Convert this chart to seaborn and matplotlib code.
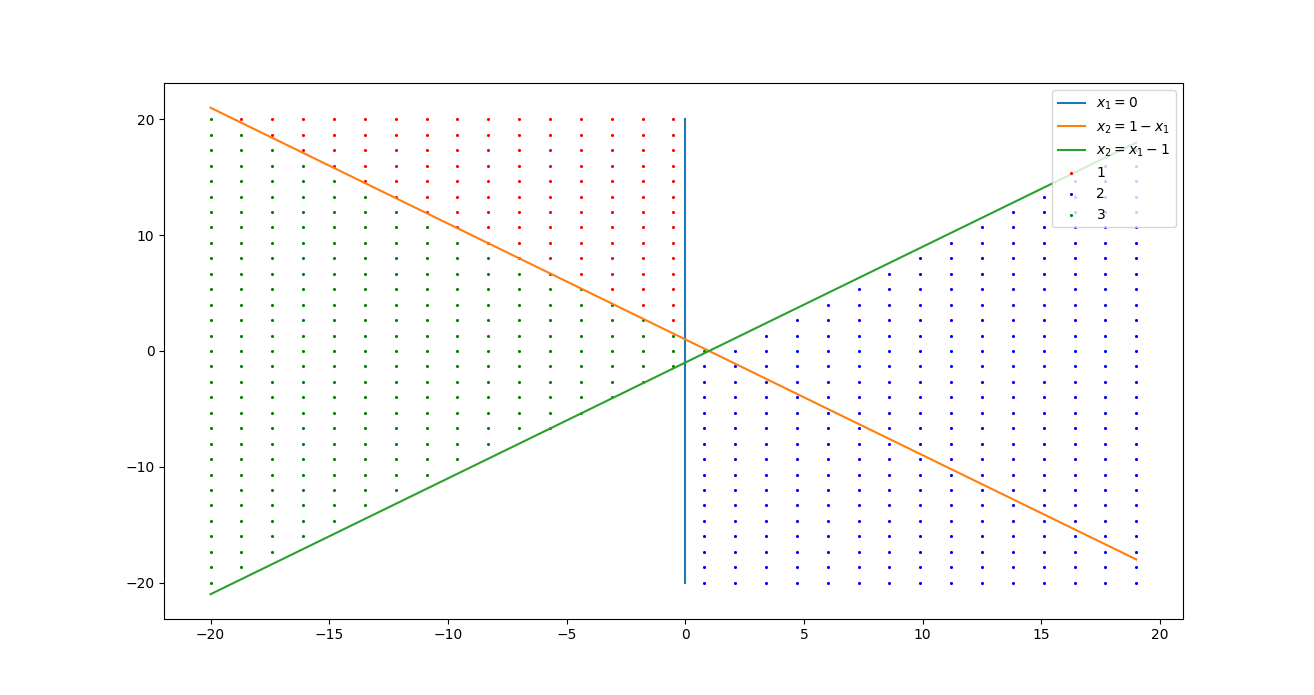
import numpy as np
import pandas as pd
import matplotlib
matplotlib.use("Agg")
import matplotlib.pyplot as plt
import seaborn as sns

# grid of sample points
x_grid = [-20.0, -18.7, -17.4, -16.1, -14.8, -13.5, -12.2, -10.9, -9.6, -8.3, -7.0,
          -5.7, -4.4, -3.1, -1.8, -0.5, 0.8, 2.1, 3.4, 4.7, 6.0, 7.3, 8.6, 9.9,
          11.2, 12.5, 13.8, 15.1, 16.4, 17.7, 19.0]
y_grid = [-20.0, -18.67, -17.33, -16.0, -14.67, -13.33, -12.0, -10.67, -9.33, -8.0,
          -6.67, -5.33, -4.0, -2.67, -1.33, 0.0, 1.33, 2.67, 4.0, 5.33, 6.67, 8.0,
          9.33, 10.67, 12.0, 13.33, 14.67, 16.0, 17.33, 18.67, 20.0]

# decision lines
line1_x = [0, 0]
line1_y = [-20, 20]
line2_x = [-20, 19]
line2_y = [21, -18]
line3_x = [-20, 19]
line3_y = [-21, 18]

# which grid point belongs to which class (regions bounded by the lines)
pts = pd.DataFrame([(x, y) for x in x_grid for y in y_grid], columns=["x1", "x2"])
cls1 = pts[(pts.x1 < 0) & (pts.x2 > 1 - pts.x1)]
cls2 = pts[(pts.x1 > 0) & (pts.x2 < pts.x1 - 1)]
cls3 = pts[(pts.x2 <= 1 - pts.x1) & (pts.x2 > pts.x1 - 1)]

fig, ax = plt.subplots(figsize=(13.14, 6.95), dpi=100)

sns.lineplot(x=line1_x, y=line1_y, color="tab:blue", estimator=None, sort=False,
             label=r"$x_1 = 0$", ax=ax)
sns.lineplot(x=line2_x, y=line2_y, color="tab:orange", estimator=None, sort=False,
             label=r"$x_2 = 1 - x_1$", ax=ax)
sns.lineplot(x=line3_x, y=line3_y, color="tab:green", estimator=None, sort=False,
             label=r"$x_2 = x_1 - 1$", ax=ax)

sns.scatterplot(data=cls1, x="x1", y="x2", color="r", s=5, linewidth=0, label="1", ax=ax)
sns.scatterplot(data=cls2, x="x1", y="x2", color="b", s=5, linewidth=0, label="2", ax=ax)
sns.scatterplot(data=cls3, x="x1", y="x2", color="g", s=5, linewidth=0, label="3", ax=ax)

ax.set_xlabel("")
ax.set_ylabel("")
ax.legend(loc="upper right")

plt.savefig("out.png", dpi=100)
